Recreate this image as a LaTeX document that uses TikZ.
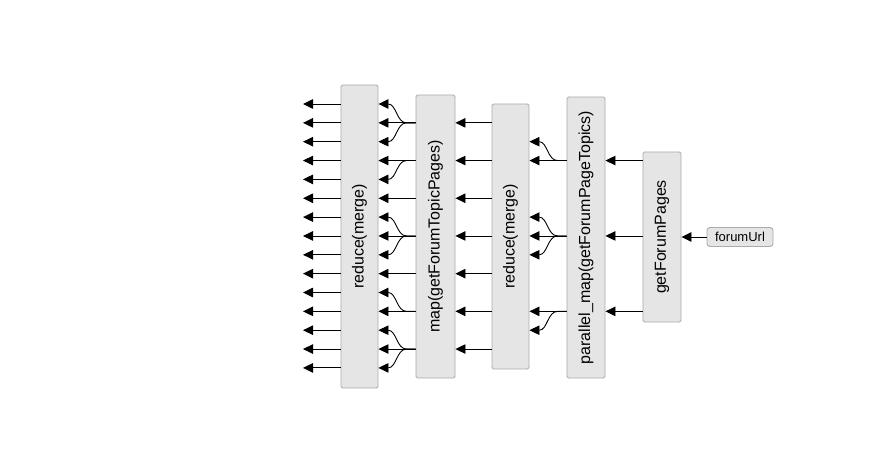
\documentclass[tikz,border=0pt]{standalone}
\usepackage{fontspec}
\setmainfont{Liberation Sans}
\usepackage{tikz}
\usetikzlibrary{arrows.meta}

\tikzset{
    task/.style={draw=black!33,fill=black!10,rounded corners=1.5pt,inner sep=0pt,
        font=\fontsize{16}{19}\selectfont},
    param/.style={draw=black!33,fill=black!10,rounded corners=3pt,inner sep=0pt,
        minimum width=66pt,minimum height=19pt,font=\fontsize{13}{15}\selectfont},
    fan/.style={to path={-- ++(-9,0) .. controls +(-10,0) and +(18,0) .. (\tikztotarget)}}
}

\begin{document}
\begin{tikzpicture}[x=1pt,y=-1pt,>={Triangle[length=10pt,width=9.5pt]},line width=0.9pt]
    \useasboundingbox (0,0) rectangle (869,473);

    % port rows
    \foreach \k in {0,...,14}
        \coordinate (r\k) at (0,{104+18.85*\k});
    \coordinate (out) at (303,0);

    \node [task,minimum width=37pt,minimum height=303pt] (reduceA) at (359.5,236.5) {\rotatebox{90}{reduce(merge)}};
    \node [task,minimum width=39pt,minimum height=283pt] (mapTopics) at (435.5,236.5) {\rotatebox{90}{map(getForumTopicPages)}};
    \node [task,minimum width=37pt,minimum height=265pt] (reduceB) at (510.5,236.5) {\rotatebox{90}{reduce(merge)}};
    \node [task,minimum width=38pt,minimum height=281pt] (mapPages) at (586,237.5) {\rotatebox{90}{parallel\_map(getForumPageTopics)}};
    \node [task,minimum width=38pt,minimum height=170pt] (pages) at (662,237) {\rotatebox{90}{getForumPages}};
    \node [param] (url) at (740,237) {forumUrl};

    \draw [->] (url) -- (pages);
    \foreach \k in {3,7,11}
        \draw [->] (pages.west |- r\k) -- (mapPages.east |- r\k);
    \foreach \s/\t in {3/2,3/3,7/6,7/7,7/8,11/11,11/12}
        \draw [->] (mapPages.west |- r\s) to[fan] (reduceB.east |- r\t);
    \foreach \k in {1,3,...,13}
        \draw [->] (reduceB.west |- r\k) -- (mapTopics.east |- r\k);
    \foreach \s/\t in {1/0,1/1,1/2,3/3,3/4,5/5,7/6,7/7,7/8,9/9,11/10,11/11,13/12,13/13,13/14}
        \draw [->] (mapTopics.west |- r\s) to[fan] (reduceA.east |- r\t);
    \foreach \k in {0,...,14}
        \draw [->] (reduceA.west |- r\k) -- (out |- r\k);
\end{tikzpicture}
\end{document}
